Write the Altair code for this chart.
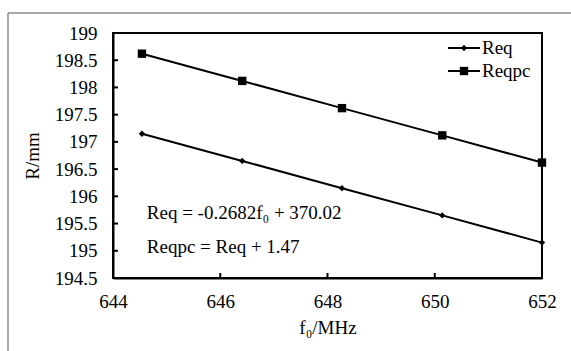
import altair as alt
import pandas as pd

f0 = [644.54, 646.41, 648.27, 650.14, 652.0]
req = [197.15, 196.65, 196.15, 195.65, 195.15]
reqpc = [198.62, 198.12, 197.62, 197.12, 196.62]
series_names = ["Req", "Reqpc"]
x_ticks = [644, 646, 648, 650, 652]
y_ticks = [194.5, 195, 195.5, 196, 196.5, 197, 197.5, 198, 198.5, 199]
eq_lines = ["Req = -0.2682f\u2080 + 370.02", "Reqpc = Req + 1.47"]
eq_x = [644.63, 644.63]
eq_y = [195.69, 195.07]

FONT = "Liberation Serif"
FS = 19
W, H = 429, 245

df = pd.DataFrame({
    "f0": f0 * 2,
    "R": req + reqpc,
    "s": [series_names[0]] * 5 + [series_names[1]] * 5,
})

xs = alt.Scale(domain=[644, 652], nice=False)
ys = alt.Scale(domain=[194.5, 199], nice=False)

xax = alt.Axis(values=x_ticks, ticks=False, grid=False, domainColor="black", domainWidth=2,
               labelFont=FONT, labelFontSize=FS, labelColor="black", labelPadding=14,
               labelOverlap=False, labelFlush=False,
               title="f\u2080/MHz", titleFont=FONT, titleFontSize=FS, titleFontWeight="normal",
               titleColor="black", titlePadding=7, format="d")
yax = alt.Axis(values=y_ticks, ticks=False, grid=False, domainColor="black", domainWidth=2,
               labelFont=FONT, labelFontSize=FS, labelColor="black", labelPadding=16,
               labelOverlap=False, labelFlush=False,
               title="R/mm", titleFont=FONT, titleFontSize=FS, titleFontWeight="normal",
               titleColor="black", titlePadding=12, format="~g")

X = lambda f: alt.X(f, scale=xs, axis=xax)
Y = lambda f: alt.Y(f, scale=ys, axis=yax)

base = alt.Chart(df)

lines = base.mark_line(color="black", strokeWidth=2).encode(
    x=X("f0:Q"), y=Y("R:Q"), detail="s:N")

pts_req = base.transform_filter(alt.datum.s == series_names[0]).mark_point(
    shape="diamond", filled=True, color="black", size=40, opacity=1
).encode(x=X("f0:Q"), y=Y("R:Q"))

pts_pc = base.transform_filter(alt.datum.s == series_names[1]).mark_point(
    shape="square", filled=True, color="black", size=70, opacity=1
).encode(x=X("f0:Q"), y=Y("R:Q"))

# inward ticks
yt = alt.Chart(pd.DataFrame({"v": y_ticks})).mark_rule(color="black", strokeWidth=2).encode(
    y=Y("v:Q"), x=alt.value(0), x2=alt.value(5))
xt = alt.Chart(pd.DataFrame({"v": x_ticks})).mark_rule(color="black", strokeWidth=2).encode(
    x=X("v:Q"), y=alt.value(H), y2=alt.value(H - 5))

# equations
eq = alt.Chart(pd.DataFrame({"t": eq_lines, "x": eq_x, "y": eq_y})).mark_text(
    font=FONT, fontSize=FS, align="left", baseline="middle", color="black"
).encode(x=X("x:Q"), y=Y("y:Q"), text="t:N")

# legend (one small layer per entry)
leg_rows = [15, 38]
leg_shapes = ["diamond", "square"]
leg_sizes = [40, 70]
leg_layers = []
for name, yy, shp, sz in zip(series_names, leg_rows, leg_shapes, leg_sizes):
    d = pd.DataFrame({"name": [name]})
    leg_layers.append(alt.Chart(d).mark_rule(color="black", strokeWidth=2).encode(
        y=alt.value(yy), x=alt.value(335), x2=alt.value(367)))
    leg_layers.append(alt.Chart(d).mark_point(
        shape=shp, filled=True, color="black", size=sz, opacity=1
    ).encode(y=alt.value(yy), x=alt.value(351)))
    leg_layers.append(alt.Chart(d).mark_text(
        font=FONT, fontSize=FS, align="left", baseline="middle", color="black"
    ).encode(y=alt.value(yy), x=alt.value(369), text="name:N"))

# outer gray frame
frame_v = alt.Chart(pd.DataFrame({"a": [0]})).mark_rule(color="#8c8c8c", strokeWidth=1.5).encode(
    x=alt.value(-105), y=alt.value(-20), y2=alt.value(H + 80))
frame_h = alt.Chart(pd.DataFrame({"a": [0]})).mark_rule(color="#8c8c8c", strokeWidth=1.5).encode(
    x=alt.value(-105), x2=alt.value(W + 40), y=alt.value(-20))

chart = alt.layer(
    frame_v, frame_h, lines, pts_req, pts_pc, yt, xt, eq, *leg_layers
).properties(
    width=W, height=H,
    padding={"left": 113, "top": 33, "right": 29, "bottom": 73},
    autosize=alt.AutoSizeParams(type="none"),
    background="white",
).configure_view(stroke="black", strokeWidth=2).configure_axis(labelOverlap=False)

chart.save("out.html", embed_options={"renderer": "svg", "actions": False})
